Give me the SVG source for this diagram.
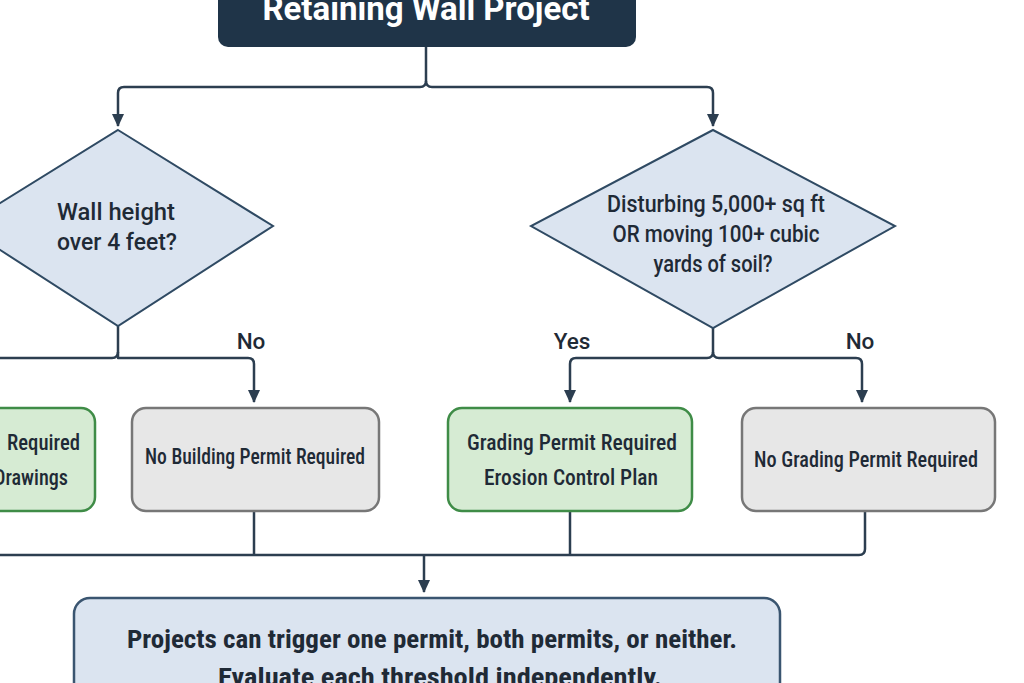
<svg xmlns="http://www.w3.org/2000/svg" width="1024" height="683" viewBox="0 0 1024 683">
<defs>
<marker id="arr" markerWidth="14" markerHeight="14" refX="12" refY="7" orient="auto" markerUnits="userSpaceOnUse">
<path d="M0,1 L13,7 L0,13 Z" fill="#2c3e50"/>
</marker>
</defs>
<style>
.t{font-family:"Roboto Condensed","Liberation Sans Narrow",Roboto,"Liberation Sans",sans-serif;fill:#1f2a36;text-anchor:middle;font-weight:500;font-size:22px}
.d{font-family:Roboto,"Liberation Sans",sans-serif;fill:#1f2a36;text-anchor:middle;font-weight:500;font-size:23px}
.l{font-family:Roboto,"Liberation Sans",sans-serif;fill:#1f2a36;text-anchor:middle;font-weight:500;font-size:22.5px}
.s{font-family:"Roboto Condensed","Liberation Sans Narrow",Roboto,"Liberation Sans",sans-serif;fill:#1f2a36;text-anchor:middle;font-weight:700;font-size:26.5px}
.ln{fill:none;stroke:#2c3e50;stroke-width:2.5;stroke-linejoin:round}
.dia{fill:#dbe4f0;stroke:#2f4a63;stroke-width:2}
.grn{fill:#d6ebd3;stroke:#3f8c47;stroke-width:2.5}
.gry{fill:#e7e7e7;stroke:#777;stroke-width:2.5}
</style>
<rect width="1024" height="683" fill="#ffffff"/>
<g id="connectors">
<path class="ln" d="M426,47 V81 Q426,87 420,87 H124 Q118,87 118,93 V126" marker-end="url(#arr)"/>
<path class="ln" d="M426,81 Q426,87 432,87 H707 Q713,87 713,93 V126" marker-end="url(#arr)"/>
<path class="ln" d="M118,326 V358 H248 Q254,358 254,364 V402" marker-end="url(#arr)"/>
<path class="ln" d="M118,352 Q118,358 112,358 H-10"/>
<path class="ln" d="M713,328 V352 Q713,358 707,358 H576 Q570,358 570,364 V402" marker-end="url(#arr)"/>
<path class="ln" d="M713,352 Q713,358 719,358 H856 Q862,358 862,364 V402" marker-end="url(#arr)"/>
<path class="ln" d="M254,511 V555"/>
<path class="ln" d="M570,511 V555"/>
<path class="ln" d="M865,511 V549 Q865,555 859,555 H-10"/>
<path class="ln" d="M424,555 V592" marker-end="url(#arr)"/>
<text class="l" x="251" y="349">No</text>
<text class="l" x="572" y="349">Yes</text>
<text class="l" x="860" y="349">No</text>
</g>
<g id="start">
<rect x="218" y="-20" width="418" height="67" rx="10" fill="#1f3448"/>
<text x="426" y="20" font-family="Roboto,'Open Sans','Liberation Sans',sans-serif" font-size="33" font-weight="700" fill="#ffffff" text-anchor="middle">Retaining Wall Project</text>
</g>
<g id="q-height">
<polygon class="dia" points="118,130 273,226 118,326 -37,226"/>
<text class="d" x="116" y="220" textLength="118" lengthAdjust="spacingAndGlyphs">Wall height</text>
<text class="d" x="117" y="250" textLength="120" lengthAdjust="spacingAndGlyphs">over 4 feet?</text>
</g>
<g id="q-grading">
<polygon class="dia" points="713,130 895,226 713,328 531,226"/>
<text class="d" x="716" y="212" textLength="218" lengthAdjust="spacingAndGlyphs">Disturbing 5,000+ sq ft</text>
<text class="d" x="716" y="242" textLength="207" lengthAdjust="spacingAndGlyphs">OR moving 100+ cubic</text>
<text class="d" x="713" y="272" textLength="119" lengthAdjust="spacingAndGlyphs">yards of soil?</text>
</g>
<g id="building-required">
<rect class="grn" x="-30" y="408" width="125" height="103" rx="14"/>
<text class="t" x="80" y="450" style="text-anchor:end" textLength="73" lengthAdjust="spacingAndGlyphs">Required</text>
<text class="t" x="68" y="485" style="text-anchor:end" textLength="74" lengthAdjust="spacingAndGlyphs">Drawings</text>
</g>
<g id="no-building">
<rect class="gry" x="132" y="408" width="247" height="103" rx="14"/>
<text class="t" x="255" y="464" textLength="220" lengthAdjust="spacingAndGlyphs">No Building Permit Required</text>
</g>
<g id="grading-required">
<rect class="grn" x="448" y="408" width="244" height="103" rx="14"/>
<text class="t" x="572" y="450" textLength="210" lengthAdjust="spacingAndGlyphs">Grading Permit Required</text>
<text class="t" x="571" y="485" textLength="174" lengthAdjust="spacingAndGlyphs">Erosion Control Plan</text>
</g>
<g id="no-grading">
<rect class="gry" x="742" y="408" width="253" height="103" rx="14"/>
<text class="t" x="866" y="467" textLength="224" lengthAdjust="spacingAndGlyphs">No Grading Permit Required</text>
</g>
<g id="summary">
<rect x="74" y="598" width="706" height="110" rx="16" fill="#dbe4f0" stroke="#3a5570" stroke-width="2.5"/>
<text class="s" x="432" y="648" textLength="610" lengthAdjust="spacingAndGlyphs">Projects can trigger one permit, both permits, or neither.</text>
<text class="s" x="440" y="686" textLength="444" lengthAdjust="spacingAndGlyphs">Evaluate each threshold independently.</text>
</g>
</svg>
